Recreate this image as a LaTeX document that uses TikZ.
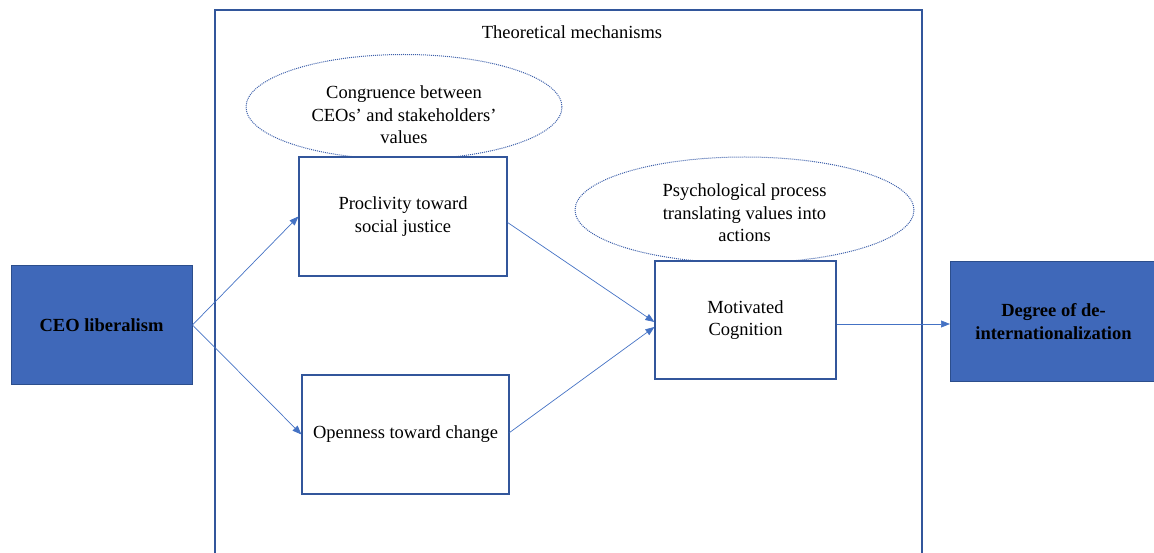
\documentclass[tikz,border=0pt]{standalone}
\usepackage{fontspec}
\setmainfont{Liberation Serif}
\usetikzlibrary{arrows.meta,shapes.geometric}
\definecolor{boxblue}{RGB}{63,104,185}
\definecolor{boxedge}{RGB}{44,78,140}
\definecolor{frameblue}{RGB}{50,86,155}
\definecolor{arrowblue}{RGB}{68,114,196}
\definecolor{dotblue}{RGB}{60,95,170}
\begin{document}
\begin{tikzpicture}[x=1pt,y=-1pt,
  txt/.style={font=\fontsize{18.5}{22.5}\selectfont, align=center, text=black, inner sep=0pt},
  bluebox/.style={draw=boxedge, line width=1pt, fill=boxblue, font=\fontsize{18.5}{22.5}\selectfont\bfseries, align=center, inner sep=0pt},
  whitebox/.style={draw=frameblue, line width=1.2pt, fill=white, font=\fontsize{18.5}{22.5}\selectfont, align=center, inner sep=0pt},
  dotell/.style={ellipse, draw=dotblue, densely dotted, line width=1pt, inner sep=0pt},
  conn/.style={draw=arrowblue, line width=0.7pt, -{Triangle[length=9pt,width=7pt]}}
]
\useasboundingbox (0,0) rectangle (1154,553);
\clip (0,0) rectangle (1154,553);

% frame (open at bottom)
\draw[frameblue, line width=1.2pt] (215,560) -- (215,10) -- (922,10) -- (922,560);
\node[txt] (title) at (572,32) {Theoretical mechanisms};

% ellipses
\node[dotell, minimum width=316, minimum height=105] (e1) at (404,107) {};
\node[txt] (e1t) at (404,115) {Congruence between\\CEOs’ and stakeholders’\\values};
\node[dotell, minimum width=339, minimum height=106] (e2) at (744.5,210) {};
\node[txt] (e2t) at (744.5,213) {Psychological process\\translating values into\\actions};

% boxes
\node[bluebox, minimum width=181, minimum height=118] (ceo) at (101.5,325) {CEO liberalism};
\node[bluebox, minimum width=206, minimum height=119, anchor=west] (deg) at (950,321.5) {Degree of de-\\internationalization};
\node[whitebox, minimum width=208, minimum height=119] (proc) at (403,216.5) {Proclivity toward\\social justice};
\node[whitebox, minimum width=207, minimum height=119] (open) at (405.5,434.5) {Openness toward change};
\node[whitebox, minimum width=181, minimum height=118] (mot) at (745.5,320) {Motivated\\Cognition};

% connectors
\draw[conn] (ceo.east) -- (proc.west);
\draw[conn] (ceo.east) -- (open.west);
\draw[conn] ([yshift=-6pt]proc.east) -- ([yshift=-2pt]mot.west);
\draw[conn] ([yshift=2pt]open.east) -- ([yshift=-7pt]mot.west);
\draw[conn] ([yshift=-4pt]mot.east) -- ([yshift=-4pt]mot.east -| deg.west);
\end{tikzpicture}
\end{document}
